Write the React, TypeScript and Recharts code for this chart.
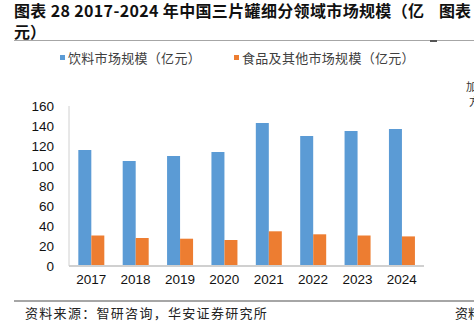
import React from "react";
import { BarChart, Bar, XAxis, YAxis, Legend } from "recharts";

const years = ["2017", "2018", "2019", "2020", "2021", "2022", "2023", "2024"];
const beverage = [116, 105, 110, 114, 143, 130, 135, 137];
const foodOther = [30.5, 28, 27.3, 26, 34.7, 31.7, 30.5, 29.6];
const yTicks = [0, 20, 40, 60, 80, 100, 120, 140, 160];

const beverageName = "饮料市场规模（亿元）";
const foodName = "食品及其他市场规模（亿元）";

const data = years.map((year, i) => ({
  year,
  beverage: beverage[i],
  foodOther: foodOther[i],
}));

const blue = "#5B9BD5";
const orange = "#ED7D31";
const cjk = '"Noto Sans CJK SC", sans-serif';
const latin = '"Liberation Sans", Arial, sans-serif';

const titleStyle: React.CSSProperties = {
  position: "absolute",
  fontFamily: cjk,
  fontWeight: 700,
  fontSize: 16,
  lineHeight: "18px",
  color: "#111",
  whiteSpace: "nowrap",
};

function LegendContent() {
  const items = [
    { name: beverageName, color: blue, left: 60 },
    { name: foodName, color: orange, left: 234 },
  ];
  return (
    <div style={{ position: "relative", height: 20 }}>
      {items.map((it) => (
        <div
          key={it.name}
          style={{
            position: "absolute",
            left: it.left,
            top: 0,
            display: "flex",
            alignItems: "center",
            fontFamily: cjk,
            fontSize: 13,
            color: "#404040",
            whiteSpace: "nowrap",
            letterSpacing: 0.3,
          }}
        >
          <span
            style={{
              display: "inline-block",
              width: 5,
              height: 5,
              background: it.color,
              marginRight: 3,
            }}
          />
          {it.name}
        </div>
      ))}
    </div>
  );
}

export default function App() {
  return (
    <div
      style={{
        position: "absolute",
        left: 0,
        top: 0,
        width: 474,
        height: 322,
        overflow: "hidden",
        background: "#fff",
      }}
    >
      {/* Title */}
      <div style={{ ...titleStyle, left: 14, top: 1, letterSpacing: 0.35 }}>
        图表 28 2017-2024 年中国三片罐细分领域市场规模（亿
      </div>
      <div style={{ ...titleStyle, left: 14, top: 22 }}>元）</div>
      <div style={{ ...titleStyle, left: 439, top: 1 }}>图表</div>
      <div style={{ position: "absolute", left: 14, top: 40, width: 460, height: 1, background: "#a6a6a6" }} />
      <div style={{ position: "absolute", left: 430, top: 39.5, width: 7, height: 2, background: "#555" }} />

      {/* Cut text from neighbouring panel */}
      <div style={{ position: "absolute", left: 466, top: 78, fontFamily: cjk, fontSize: 11, color: "#333", whiteSpace: "nowrap" }}>
        加工
      </div>
      <div style={{ position: "absolute", left: 469, top: 93, fontFamily: cjk, fontSize: 11, color: "#333", whiteSpace: "nowrap" }}>
        方
      </div>

      <div style={{ position: "absolute", left: 0, top: 0 }}>
        <BarChart
          width={474}
          height={322}
          data={data}
          barGap={0}
          barCategoryGap="21%"
          margin={{ top: 86, right: 50, left: 9, bottom: 26 }}
        >
          <XAxis
            dataKey="year"
            axisLine={{ stroke: "#d0d0d0", strokeWidth: 2 }}
            tickLine={false}
            tickSize={0}
            tickMargin={8}
            height={30}
            tick={{ fill: "#111", fontSize: 13.5, fontFamily: latin }}
          />
          <YAxis
            domain={[0, 160]}
            ticks={yTicks}
            interval={0}
            width={60}
            axisLine={{ stroke: "#d0d0d0", strokeWidth: 1 }}
            tickLine={false}
            tickSize={0}
            tickMargin={15}
            tick={{ fill: "#111", fontSize: 13.5, fontFamily: latin }}
          />
          <Legend
            verticalAlign="top"
            content={() => <LegendContent />}
            wrapperStyle={{ position: "absolute", top: 48, left: 0, width: 474 }}
          />
          <Bar dataKey="beverage" name={beverageName} fill={blue} isAnimationActive={false} />
          <Bar dataKey="foodOther" name={foodName} fill={orange} isAnimationActive={false} />
        </BarChart>
      </div>

      {/* Source */}
      <div style={{ position: "absolute", left: 14, top: 300, width: 460, height: 1.5, background: "#a6a6a6" }} />
      <div
        style={{
          position: "absolute",
          left: 25,
          top: 303,
          fontFamily: cjk,
          fontSize: 13,
          color: "#222",
          whiteSpace: "nowrap",
          letterSpacing: 1.3,
        }}
      >
        资料来源：智研咨询，华安证券研究所
      </div>
      <div
        style={{
          position: "absolute",
          left: 455,
          top: 303,
          fontFamily: cjk,
          fontSize: 13,
          color: "#222",
          whiteSpace: "nowrap",
        }}
      >
        资料
      </div>
    </div>
  );
}
